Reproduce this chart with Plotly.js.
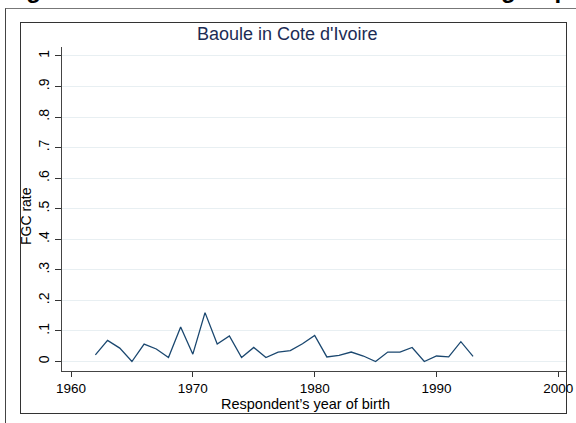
<!DOCTYPE html>
<html>
<head>
<meta charset="utf-8">
<script src="https://cdn.plot.ly/plotly-3.0.1.min.js"></script>
<style>
  html, body { margin:0; padding:0; background:#ffffff; overflow:hidden; }
  #wrap { position:relative; width:576px; height:423px; overflow:hidden; background:#fff; }
  #outer { position:absolute; left:5px; top:8px; width:600px; height:440px; border-left:1.5px solid #444; border-top:1.5px solid #777; }
  #inner { position:absolute; left:20px; top:22px; width:545px; height:390px; border:1px solid #333; }
  #fig { position:absolute; left:5px; top:-22px; font-family:Arial, "Liberation Sans", sans-serif; font-weight:bold; font-size:24px; line-height:24px; white-space:nowrap; color:#000; }
  #chart { position:absolute; left:0; top:0; width:576px; height:423px; }
</style>
</head>
<body>
<div id="wrap">
  <div id="fig">Figure 4: Trends in FGC rates within ethnic groups</div>
  <div id="outer"></div>
  <div id="inner"></div>
  <div id="chart"></div>
</div>
<script>
const years = [1962,1963,1964,1965,1966,1967,1968,1969,1970,1971,1972,1973,1974,1975,1976,1977,1978,1979,1980,1981,1982,1983,1984,1985,1986,1987,1988,1989,1990,1991,1992,1993];
const fgcRate = [0.022,0.069,0.044,0.000,0.057,0.041,0.013,0.113,0.024,0.160,0.057,0.084,0.013,0.046,0.013,0.031,0.036,0.058,0.085,0.015,0.020,0.031,0.018,0.000,0.031,0.031,0.046,0.000,0.018,0.015,0.065,0.017];
const xTicks = [1960,1970,1980,1990,2000];
const yTicks = [0,0.1,0.2,0.3,0.4,0.5,0.6,0.7,0.8,0.9,1];
const yTickText = ["0",".1",".2",".3",".4",".5",".6",".7",".8",".9","1"];
const panelTitle = "Baoule in Cote d'Ivoire";
const xTitle = "Respondent\u2019s year of birth";
const yTitle = "FGC rate";

const font = "Arial, 'Liberation Sans', sans-serif";
const trace = {
  x: years, y: fgcRate, type: 'scatter', mode: 'lines',
  line: { color: '#1a476f', width: 1.3 }, hoverinfo: 'skip'
};
const layout = {
  width: 576, height: 423, autosize: false,
  margin: { l: 62, r: 10, t: 47, b: 52, pad: 0 },
  paper_bgcolor: 'rgba(0,0,0,0)', plot_bgcolor: '#ffffff',
  showlegend: false,
  font: { family: font, color: '#000', size: 14 },
  xaxis: {
    range: [1959.26, 2000.63], tickvals: xTicks, ticktext: xTicks.map(String),
    ticks: 'outside', ticklen: 5, tickwidth: 1, tickcolor: '#333',
    showline: true, linecolor: '#444', linewidth: 1, mirror: false,
    showgrid: false, zeroline: false,
    tickfont: { family: font, size: 13.5, color: '#000' }
  },
  yaxis: {
    range: [-0.031, 1.029], tickvals: yTicks, ticktext: yTickText,
    ticks: 'outside', ticklen: 6, tickwidth: 1, tickcolor: '#333',
    tickangle: -90,
    showline: true, linecolor: '#444', linewidth: 1,
    showgrid: true, gridcolor: '#e8eff2', gridwidth: 1, zeroline: false,
    tickfont: { family: font, size: 14, color: '#000' }
  },
  annotations: [
    {
      text: panelTitle, xref: 'paper', yref: 'paper', x: 0.448, y: 1, yshift: 13,
      xanchor: 'center', yanchor: 'middle', showarrow: false,
      font: { family: font, size: 18, color: '#1c2c55' }
    },
    {
      text: xTitle, xref: 'paper', yref: 'paper', x: 0.484, y: -0.103,
      xanchor: 'center', yanchor: 'middle', showarrow: false,
      font: { family: font, size: 14.5, color: '#000' }
    },
    {
      text: yTitle, xref: 'paper', yref: 'paper', x: -0.071, y: 0.479,
      xanchor: 'center', yanchor: 'middle', showarrow: false, textangle: -90,
      font: { family: font, size: 14, color: '#000' }
    }
  ]
};
Plotly.newPlot('chart', [trace], layout, { staticPlot: true, displayModeBar: false });
</script>
</body>
</html>
